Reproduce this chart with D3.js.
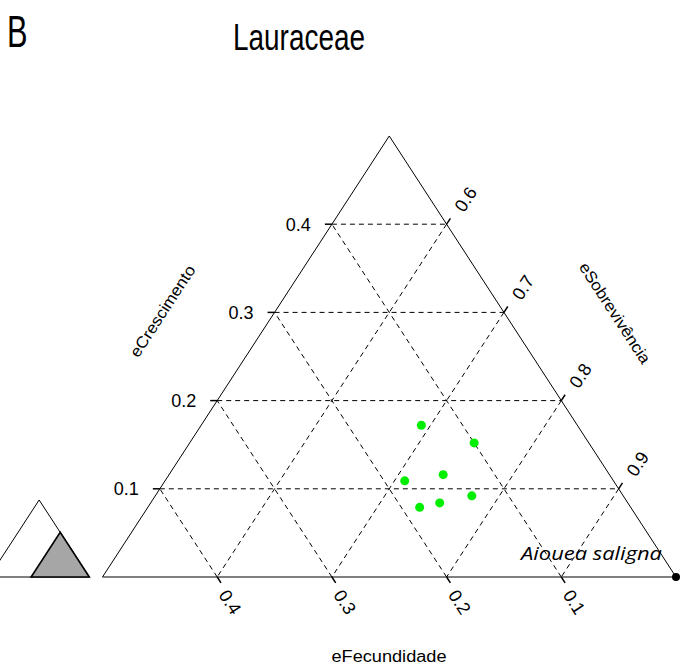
<!DOCTYPE html>
<html>
<head>
<meta charset="utf-8">
<script src="https://cdn.jsdelivr.net/npm/d3@7"></script>
<style>
  body { margin: 0; background: #fff; }
  text { font-family: "Liberation Sans", Arial, sans-serif; fill: #000; }
</style>
</head>
<body>
<div id="ternary"></div>
<script>
// values (zoomed region: eSobrevivencia >= 0.5)
const crescimento   = [0.172, 0.152, 0.109, 0.116, 0.092, 0.084, 0.079];
const fecundidade   = [0.136, 0.100, 0.182, 0.145, 0.132, 0.164, 0.184];
const sobrevivencia = [0.692, 0.748, 0.709, 0.739, 0.776, 0.752, 0.737];

const labelName = ["Aiouea saligna"];
const labelCr = [0.0];
const labelF = [0.0];

const crTicks = [0.1, 0.2, 0.3, 0.4];
const sTicks = [0.6, 0.7, 0.8, 0.9];
const fTicks = [0.4, 0.3, 0.2, 0.1];

const W = 681, H = 666;

const svg = d3.select("#ternary")
    .append("svg")
    .attr("width", W)
    .attr("height", H);

// scales: eCrescimento -> vertical, eFecundidade -> along the base
const yScale = d3.scaleLinear().domain([0, 0.5]).range([577, 136]);
const fScale = d3.scaleLinear().domain([0, 0.5]).range([676, 102.5]);
const proj = (F, Cr) => [fScale(F + Cr / 2), yScale(Cr)];

const angle = Math.atan((yScale(0) - yScale(0.5)) / (fScale(0) - fScale(0.25))) * 180 / Math.PI;
const ux = Math.cos(angle * Math.PI / 180), uy = Math.sin(angle * Math.PI / 180);

// grid lines
const grid = svg.append("g")
    .attr("stroke", "#000")
    .attr("stroke-width", 1)
    .attr("stroke-dasharray", "5,4")
    .attr("fill", "none");

crTicks.forEach(v => {
    const a = proj(0.5 - v, v), b = proj(0, v);
    grid.append("line").attr("x1", a[0]).attr("y1", a[1]).attr("x2", b[0]).attr("y2", b[1]);
});
fTicks.forEach(v => {
    const a = proj(v, 0), b = proj(v, 0.5 - v);
    grid.append("line").attr("x1", a[0]).attr("y1", a[1]).attr("x2", b[0]).attr("y2", b[1]);
});
sTicks.forEach(v => {
    const a = proj(0, 1 - v), b = proj(1 - v, 0);
    grid.append("line").attr("x1", a[0]).attr("y1", a[1]).attr("x2", b[0]).attr("y2", b[1]);
});

// triangle outline
const corners = [proj(0.5, 0), proj(0, 0), proj(0, 0.5)];
svg.append("path")
    .attr("d", d3.line()(corners) + "Z")
    .attr("fill", "none")
    .attr("stroke", "#000")
    .attr("stroke-width", 1);

// ticks and tick labels
const tk = 7;
const axes = svg.append("g").attr("stroke", "#000").attr("stroke-width", 1.5);

crTicks.forEach(v => {
    const p = proj(0.5 - v, v);
    axes.append("line").attr("x1", p[0]).attr("y1", p[1]).attr("x2", p[0] - tk).attr("y2", p[1]);
    svg.append("text")
        .attr("x", p[0] - 21).attr("y", p[1])
        .attr("dy", "0.35em")
        .attr("text-anchor", "end")
        .attr("font-size", 18)
        .text(v.toFixed(1));
});
sTicks.forEach(v => {
    const p = proj(0, 1 - v);
    axes.append("line").attr("x1", p[0]).attr("y1", p[1]).attr("x2", p[0] + tk * ux).attr("y2", p[1] - tk * uy);
    svg.append("text")
        .attr("transform", "translate(" + (p[0] + 19) + "," + (p[1] - 25) + ") rotate(" + (-angle) + ")")
        .attr("dy", "0.35em")
        .attr("text-anchor", "middle")
        .attr("font-size", 18)
        .text(v.toFixed(1));
});
fTicks.forEach(v => {
    const p = proj(v, 0);
    axes.append("line").attr("x1", p[0]).attr("y1", p[1]).attr("x2", p[0] + tk * ux).attr("y2", p[1] + tk * uy);
    svg.append("text")
        .attr("transform", "translate(" + (p[0] + 13) + "," + (p[1] + 25) + ") rotate(" + angle + ")")
        .attr("dy", "0.35em")
        .attr("text-anchor", "middle")
        .attr("font-size", 18)
        .text(v.toFixed(1));
});

// axis titles
svg.append("text")
    .attr("transform", "translate(162.5,311) rotate(" + (-angle) + ")")
    .attr("dy", "0.35em")
    .attr("text-anchor", "middle")
    .attr("font-size", 16)
    .attr("textLength", 106).attr("lengthAdjust", "spacingAndGlyphs")
    .text("eCrescimento");

svg.append("text")
    .attr("transform", "translate(615,313) rotate(" + angle + ")")
    .attr("dy", "0.35em")
    .attr("text-anchor", "middle")
    .attr("font-size", 16)
    .attr("textLength", 117).attr("lengthAdjust", "spacingAndGlyphs")
    .text("eSobrevivência");

svg.append("text")
    .attr("x", 389).attr("y", 661.5)
    .attr("text-anchor", "middle")
    .attr("font-size", 16)
    .attr("textLength", 115).attr("lengthAdjust", "spacingAndGlyphs")
    .text("eFecundidade");

// points
svg.append("g")
    .selectAll("circle")
    .data(crescimento)
    .enter().append("circle")
    .attr("cx", (d, i) => proj(fecundidade[i], d)[0])
    .attr("cy", (d, i) => proj(fecundidade[i], d)[1])
    .attr("r", 4.5)
    .attr("fill", "#00ee00");

// labelled species
labelName.forEach((name, i) => {
    const p = proj(labelF[i], labelCr[i]);
    svg.append("circle").attr("cx", p[0]).attr("cy", p[1]).attr("r", 4).attr("fill", "#000");
    svg.append("text")
        .attr("x", p[0] - 14).attr("y", p[1] - 17)
        .attr("text-anchor", "end")
        .attr("font-size", 18)
        .attr("font-style", "italic")
        .style("font-family", "'Open Sans', sans-serif")
        .attr("textLength", 141).attr("lengthAdjust", "spacingAndGlyphs")
        .text(name);
});

// inset: full triangle with zoomed region shaded
const insetX = d3.scaleLinear().domain([0, 1]).range([89.3, -11]);
const insetY = d3.scaleLinear().domain([0, 1]).range([577, 500]);
const iproj = (F, Cr) => [insetX(F + Cr / 2), insetY(Cr)];
const zoomFrac = 0.58;
svg.append("path")
    .attr("d", d3.line()([iproj(1, 0), iproj(0, 0), iproj(0, 1)]) + "Z")
    .attr("fill", "none")
    .attr("stroke", "#000")
    .attr("stroke-width", 1);
svg.append("path")
    .attr("d", d3.line()([iproj(zoomFrac, 0), iproj(0, 0), iproj(0, zoomFrac)]) + "Z")
    .attr("fill", "#a6a6a6")
    .attr("stroke", "#000")
    .attr("stroke-width", 1.6);

// titles
svg.append("text")
    .attr("x", 233).attr("y", 50)
    .attr("font-size", 37)
    .attr("textLength", 132).attr("lengthAdjust", "spacingAndGlyphs")
    .text("Lauraceae");

svg.append("text")
    .attr("x", 7).attr("y", 46.7)
    .attr("font-size", 44)
    .attr("textLength", 20.5).attr("lengthAdjust", "spacingAndGlyphs")
    .text("B");
</script>
</body>
</html>
